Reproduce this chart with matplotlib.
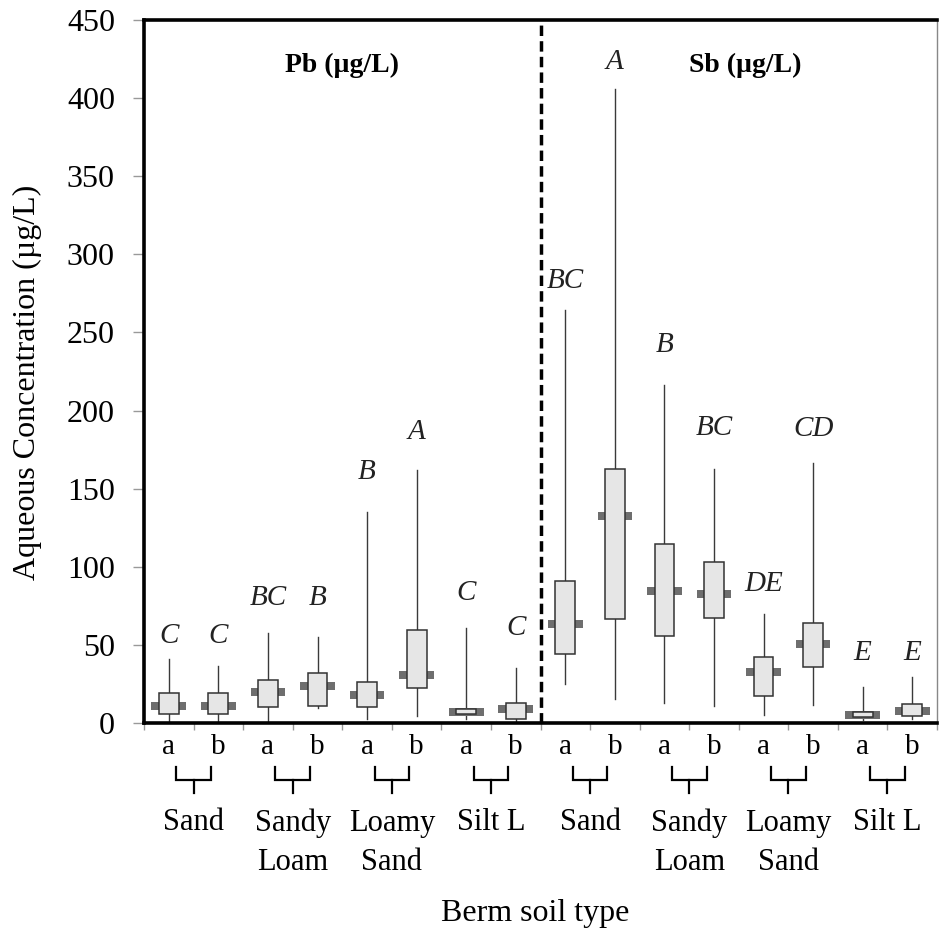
import matplotlib.pyplot as plt
from matplotlib.patches import Rectangle
from matplotlib.transforms import blended_transform_factory

plt.rcParams['font.family'] = ['Liberation Serif', 'DejaVu Serif']

# Pb samples (first 8) then Sb samples (last 8), a/b per berm soil type
sample_labels = ['a', 'b'] * 8
whisker_low = [0, 0, 0, 9.6, 2.6, 4.7, 2.6, 1.0,
               24.8, 15.4, 12.6, 11.1, 5.1, 11.5, 1.9, 2.6]
q1 = [5.6, 5.6, 10.4, 11.1, 10.4, 22.6, 5.6, 2.6,
      44.0, 66.5, 55.9, 67.2, 17.5, 36.0, 4.0, 4.7]
q3 = [19.0, 19.0, 27.5, 31.8, 26.0, 59.5, 8.8, 12.6,
      90.9, 162.3, 114.3, 102.8, 42.4, 63.8, 6.8, 12.0]
whisker_high = [41.0, 36.7, 57.4, 55.2, 134.8, 161.9, 61.0, 35.4,
                264.2, 406.0, 216.3, 162.3, 69.5, 166.5, 22.8, 29.6]
means = [11.1, 11.1, 20.0, 23.9, 18.1, 30.7, 6.8, 9.0,
         63.5, 132.4, 84.6, 82.5, 32.8, 50.7, 5.3, 7.9]

# significance letters and their heights
letters = ['C', 'C', 'BC', 'B', 'B', 'A', 'C', 'C',
           'BC', 'A', 'B', 'BC', 'DE', 'CD', 'E', 'E']
letter_y = [56, 56, 80, 80, 161, 186, 83, 61,
            283, 423, 242, 189, 89, 188, 45, 45]

soil_types = ['Sand', 'Sandy\nLoam', 'Loamy\nSand', 'Silt L'] * 2
panel_titles = ['Pb (\u00b5g/L)', 'Sb (\u00b5g/L)']

fig = plt.figure(figsize=(9.39, 9.39), dpi=100)
ax = fig.add_axes([0.1534, 0.2300, 0.8445, 0.7487])

n = len(q1)
xs = list(range(n))
box_w = 0.4
mean_w = 0.7
mean_h = 5.2

for x, lo, b1, b3, hi, m in zip(xs, whisker_low, q1, q3, whisker_high, means):
    ax.plot([x, x], [lo, hi], color='#3a3a3a', lw=1.0, zorder=1)
    ax.add_patch(Rectangle((x - mean_w / 2, m - mean_h / 2), mean_w, mean_h,
                           facecolor='#6e6e6e', edgecolor='none', zorder=2))
    ax.add_patch(Rectangle((x - box_w / 2, b1), box_w, b3 - b1,
                           facecolor='#e6e6e6', edgecolor='#333333',
                           lw=1.1, zorder=3))

for x, s, y in zip(xs, letters, letter_y):
    ax.text(x, y, s, ha='center', va='center', fontsize=21,
            style='italic', color='#222222')

# divider between the Pb and Sb panels
ax.axvline(7.5, color='black', lw=2.5, dashes=(3.0, 1.5), zorder=4)
ax.text(3.5, 421, panel_titles[0], ha='center', va='center',
        fontsize=20, fontweight='bold')
ax.text(11.63, 421, panel_titles[1], ha='center', va='center',
        fontsize=20, fontweight='bold')

ax.set_xlim(-0.5, n - 0.5)
ax.set_ylim(0, 450)
ax.set_yticks(range(0, 451, 50))
ax.set_xticks(xs)
ax.set_xticklabels(sample_labels)
ax.set_xticks([i + 0.5 for i in range(-1, n)], minor=True)
ax.tick_params(axis='x', which='major', length=0, pad=8, labelsize=21)
ax.tick_params(axis='x', which='minor', length=5, color='#999999', width=1)
ax.tick_params(axis='y', length=8, color='#999999', width=1, pad=13,
               labelsize=23)

for side in ['left', 'top', 'bottom']:
    ax.spines[side].set_linewidth(2.6)
    ax.spines[side].set_color('black')
ax.spines['right'].set_linewidth(1.0)
ax.spines['right'].set_color('#888888')

# brackets joining a/b pairs, with soil type names underneath
trans = blended_transform_factory(ax.transData, fig.transFigure)
y_end = 1 - 767 / 939
y_bar = 1 - 780 / 939
y_stem = 1 - 793 / 939
for g, name in enumerate(soil_types):
    cx = 2 * g + 0.5
    ax.plot([cx - 0.35, cx - 0.35, cx + 0.35, cx + 0.35],
            [y_end, y_bar, y_bar, y_end], color='black', lw=1.6,
            transform=trans, clip_on=False, solid_joinstyle='miter')
    ax.plot([cx, cx], [y_bar, y_stem], color='black', lw=1.6,
            transform=trans, clip_on=False)
    for j, line in enumerate(name.split('\n')):
        ax.text(cx, 1 - (823 + 40 * j) / 939, line, ha='center', va='center',
                fontsize=22, transform=trans)

fig.text(535 / 939, 1 - 913 / 939, 'Berm soil type', ha='center',
         va='center', fontsize=23)
fig.text(27 / 939, 1 - 382 / 939, 'Aqueous Concentration (\u00b5g/L)',
         ha='center', va='center', rotation=90, fontsize=23)

fig.savefig('out.png', dpi=100)
